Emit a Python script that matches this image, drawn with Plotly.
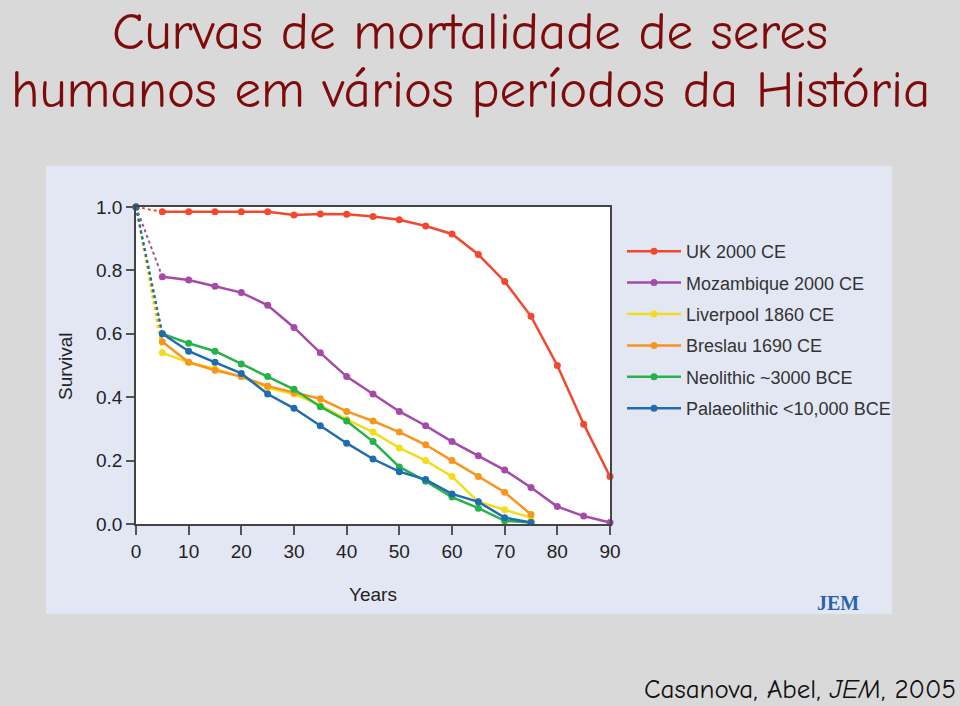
import plotly.graph_objects as go

years = [0, 5, 10, 15, 20, 25, 30, 35, 40, 45, 50, 55, 60, 65, 70, 75, 80, 85, 90]

series_names = ["UK 2000 CE", "Mozambique 2000 CE", "Liverpool 1860 CE",
                "Breslau 1690 CE", "Neolithic ~3000 BCE", "Palaeolithic <10,000 BCE"]

uk_2000 = [1.0, 0.985, 0.985, 0.985, 0.985, 0.985, 0.975, 0.978, 0.977, 0.970, 0.960,
           0.940, 0.915, 0.850, 0.765, 0.655, 0.500, 0.315, 0.150]
mozambique_2000 = [1.0, 0.780, 0.770, 0.750, 0.730, 0.690, 0.620, 0.540, 0.465, 0.410,
                   0.355, 0.310, 0.260, 0.215, 0.170, 0.115, 0.055, 0.025, 0.005]
liverpool_1860 = [1.0, 0.540, 0.510, 0.490, 0.465, 0.430, 0.410, 0.375, 0.330, 0.290,
                  0.240, 0.200, 0.150, 0.070, 0.045, 0.020]
breslau_1690 = [1.0, 0.575, 0.510, 0.485, 0.465, 0.435, 0.415, 0.395, 0.355, 0.325,
                0.290, 0.250, 0.200, 0.150, 0.100, 0.030]
neolithic = [1.0, 0.600, 0.570, 0.545, 0.505, 0.465, 0.425, 0.370, 0.325, 0.260,
             0.180, 0.135, 0.085, 0.050, 0.010, 0.005]
palaeolithic = [1.0, 0.600, 0.545, 0.510, 0.475, 0.410, 0.365, 0.310, 0.255, 0.205,
                0.165, 0.140, 0.095, 0.070, 0.020, 0.005]

series_values = [uk_2000, mozambique_2000, liverpool_1860, breslau_1690, neolithic, palaeolithic]
colors = ["#f0492f", "#a54aa8", "#f3dc1c", "#f7951f", "#27b14a", "#1f6db0"]

y_ticks = [0.0, 0.2, 0.4, 0.6, 0.8, 1.0]
x_ticks = [0, 10, 20, 30, 40, 50, 60, 70, 80, 90]

fig = go.Figure()

for name, vals, col in zip(series_names, series_values, colors):
    xs = years[:len(vals)]
    # first (dotted) segment
    fig.add_trace(go.Scatter(
        x=xs[:2], y=vals[:2], mode="lines",
        line=dict(color=col, width=2, dash="dot"),
        legendgroup=name, showlegend=False, hoverinfo="skip", cliponaxis=False))
    fig.add_trace(go.Scatter(
        x=xs[1:], y=vals[1:], mode="lines+markers", name=name,
        line=dict(color=col, width=2.5),
        marker=dict(color=col, size=7),
        legendgroup=name, cliponaxis=False))
    fig.add_trace(go.Scatter(
        x=xs[:1], y=vals[:1], mode="markers",
        marker=dict(color=col, size=7),
        legendgroup=name, showlegend=False, hoverinfo="skip", cliponaxis=False))

L, R, T, B = 136, 350, 207, 182
PW, PH = 960 - L - R, 706 - T - B


def px_x(p):
    return (p - L) / PW


def px_y(p):
    return (706 - B - p) / PH


# panel background and white plot area
fig.add_shape(type="rect", xref="paper", yref="paper",
              x0=px_x(46), x1=px_x(892), y0=px_y(614), y1=px_y(166),
              fillcolor="#e2e7f3", line=dict(width=0), layer="below")
fig.add_shape(type="rect", xref="x", yref="y", x0=0, x1=90, y0=0, y1=1,
              fillcolor="white", line=dict(width=0), layer="below")

axis_font = dict(family="Liberation Sans, Arial, sans-serif", size=19, color="#222222")

fig.update_xaxes(range=[0, 90], tickvals=x_ticks, ticks="outside", ticklen=9,
                 tickcolor="#555555", tickwidth=1.5, showgrid=False, zeroline=False,
                 showline=True, linecolor="#444444", linewidth=1.5, mirror=True,
                 tickfont=axis_font)
fig.update_yaxes(range=[0, 1], tickvals=y_ticks, tickformat=".1f", ticks="outside",
                 ticklen=8, tickcolor="#555555", tickwidth=1.5, showgrid=False,
                 zeroline=False, showline=True, linecolor="#444444", linewidth=1.5,
                 mirror=True, tickfont=axis_font)

title_font = dict(family="Comic Sans MS, Comic Neue, Open Sans, sans-serif",
                  size=53, color="#7f0a0a")

annotations = [
    dict(text="Curvas de mortalidade de seres",
         xref="paper", yref="paper", x=px_x(470), y=px_y(0), xanchor="center",
         yanchor="top", showarrow=False, font=title_font, borderpad=0),
    dict(text="humanos em vários períodos da História",
         xref="paper", yref="paper", x=px_x(470), y=px_y(89), xanchor="center",
         yanchor="middle", showarrow=False, font=title_font, borderpad=0),
    dict(text="Survival", xref="paper", yref="paper", x=px_x(65), y=px_y(366),
         xanchor="center", yanchor="middle", textangle=-90, showarrow=False,
         font=dict(family="Liberation Sans, Arial, sans-serif", size=19, color="#222222")),
    dict(text="Years", xref="paper", yref="paper", x=px_x(373), y=px_y(594),
         xanchor="center", yanchor="middle", showarrow=False,
         font=dict(family="Liberation Sans, Arial, sans-serif", size=19, color="#222222")),
    dict(text="<b>JEM</b>", xref="paper", yref="paper", x=px_x(838), y=px_y(603),
         xanchor="center", yanchor="middle", showarrow=False,
         font=dict(family="Liberation Serif, Times New Roman, serif", size=20, color="#2a62ad")),
    dict(text="Casanova, Abel, <i>JEM</i>, 2005", xref="paper", yref="paper",
         x=px_x(958), y=px_y(689), xanchor="right", yanchor="middle", showarrow=False,
         font=dict(family="Comic Sans MS, Comic Neue, Open Sans, sans-serif",
                   size=27, color="#111111")),
]

fig.update_layout(
    width=960, height=706,
    margin=dict(l=L, r=R, t=T, b=B),
    paper_bgcolor="#d9d9d9", plot_bgcolor="white",
    showlegend=True,
    legend=dict(x=px_x(622), y=px_y(233), xanchor="left", yanchor="top",
                bgcolor="rgba(0,0,0,0)", tracegroupgap=5, itemwidth=54,
                font=dict(family="Liberation Sans, Arial, sans-serif", size=18,
                          color="#333333")),
    annotations=annotations,
)

fig.write_html("out.html")
